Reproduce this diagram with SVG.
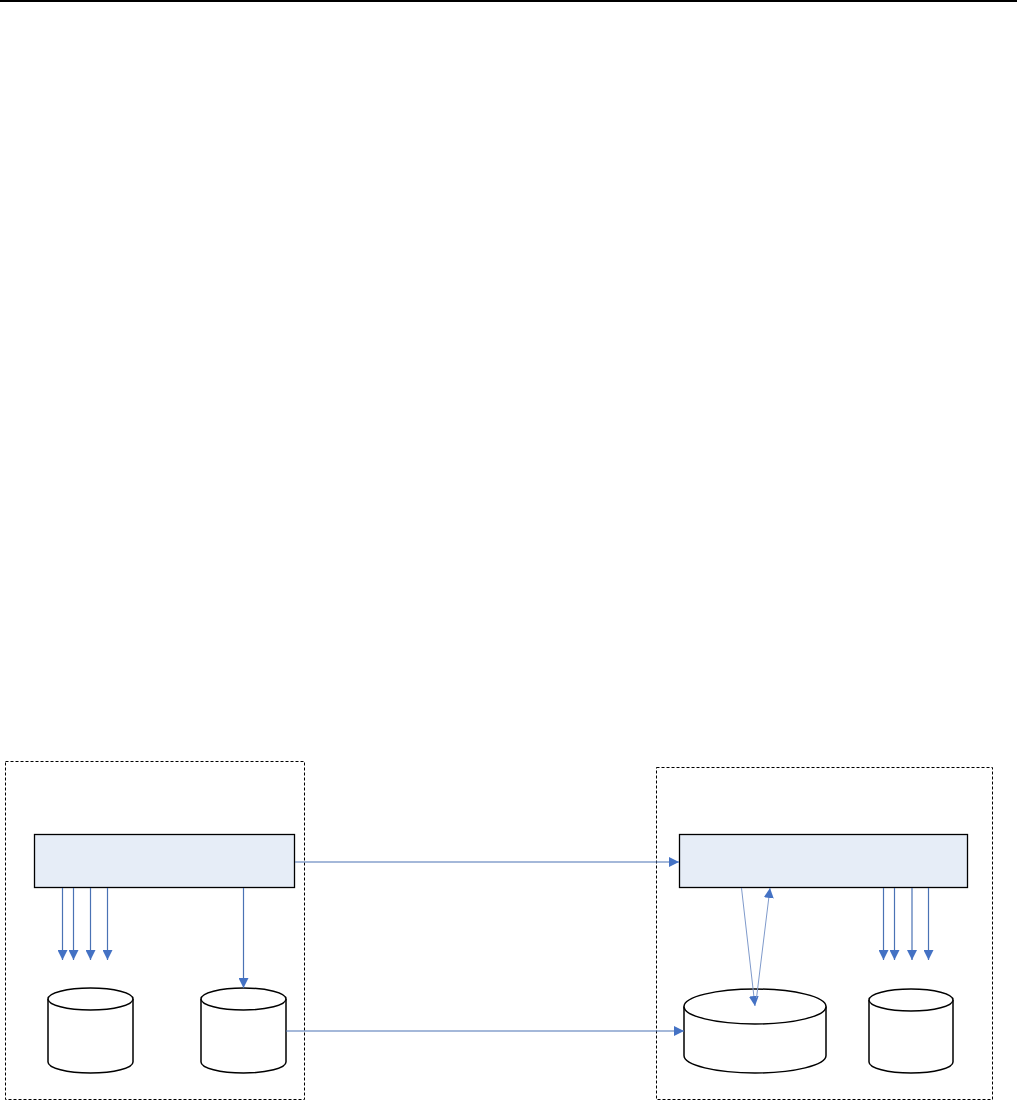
<svg xmlns="http://www.w3.org/2000/svg" width="1017" height="1100" viewBox="0 0 1017 1100">
<style>
.box{fill:none;stroke:#000;stroke-width:1;stroke-dasharray:3,2}
.rect{fill:#E6EDF7;stroke:#000;stroke-width:1.3}
.cyl{fill:#fff;stroke:#000;stroke-width:1.5}
.con{fill:none;stroke:#4A72B4;stroke-width:1.2;marker-end:url(#ah)}
.con2{fill:none;stroke:#7F9ACB;stroke-width:1;marker-end:url(#ah)}
</style>
<defs>
<marker id="ah" markerUnits="userSpaceOnUse" markerWidth="11" markerHeight="10" refX="10" refY="5" orient="auto">
<path d="M0,0 L10,5 L0,10 z" fill="#4472C4"/>
</marker>
</defs>
<rect width="1017" height="1100" fill="#fff"/>
<line x1="0" y1="1" x2="1017" y2="1" stroke="#000" stroke-width="2"/>
<g id="site-left">
<rect class="box" x="5.5" y="761.5" width="299" height="338"/>
</g>
<g id="site-right">
<rect class="box" x="656.5" y="767.5" width="336" height="332"/>
</g>
<g id="proc-left">
<rect class="rect" x="34.5" y="834.5" width="260" height="53"/>
</g>
<g id="proc-right">
<rect class="rect" x="679.5" y="834.5" width="288" height="53"/>
</g>
<g id="db-left-1">
<path class="cyl" d="M48,999 V1062 A42.5,11 0 0 0 133,1062 V999"/>
<ellipse class="cyl" cx="90.5" cy="999" rx="42.5" ry="11"/>
</g>
<g id="db-left-2">
<path class="cyl" d="M201,999 V1062 A42.5,11 0 0 0 286,1062 V999"/>
<ellipse class="cyl" cx="243.5" cy="999" rx="42.5" ry="11"/>
</g>
<g id="db-right-big">
<path class="cyl" d="M684,1006.5 V1055.5 A71,17.5 0 0 0 826,1055.5 V1006.5"/>
<ellipse class="cyl" cx="755" cy="1006.5" rx="71" ry="17.5"/>
</g>
<g id="db-right-small">
<path class="cyl" d="M869,1000 V1062 A42,11 0 0 0 953,1062 V1000"/>
<ellipse class="cyl" cx="911" cy="1000" rx="42" ry="11"/>
</g>
<g id="connectors">
<line class="con" x1="62.5" y1="888" x2="62.5" y2="960"/>
<line class="con" x1="73.5" y1="888" x2="73.5" y2="960"/>
<line class="con" x1="90.5" y1="888" x2="90.5" y2="960"/>
<line class="con" x1="107.5" y1="888" x2="107.5" y2="960"/>
<line class="con" x1="243.5" y1="888" x2="243.5" y2="988"/>
<line class="con" x1="295" y1="862" x2="679" y2="862"/>
<line class="con" x1="286" y1="1031" x2="684" y2="1031"/>
<line class="con2" x1="741.5" y1="888" x2="755" y2="1006"/>
<line class="con2" x1="756.5" y1="998" x2="770" y2="888"/>
<line class="con" x1="883.5" y1="888" x2="883.5" y2="960"/>
<line class="con" x1="894.5" y1="888" x2="894.5" y2="960"/>
<line class="con" x1="912" y1="888" x2="912" y2="960"/>
<line class="con" x1="928.5" y1="888" x2="928.5" y2="960"/>
</g>
</svg>
